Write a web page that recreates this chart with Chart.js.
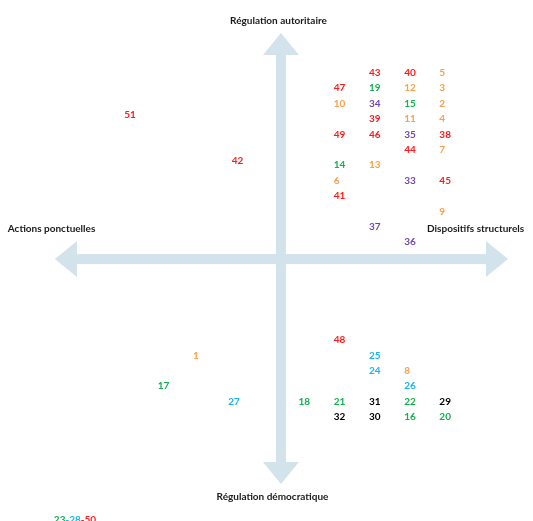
<!DOCTYPE html>
<html lang="fr">
<head>
    <meta charset="UTF-8">
    <script src="https://cdn.jsdelivr.net/npm/chart.js@4.4.6/dist/chart.umd.min.js"></script>
    <title>Régulation</title>
    <style>
        body { margin: 0; background: #fff; }
        #wrap { width: 533px; height: 521px; }
    </style>
</head>
<body>
    <div id="wrap"><canvas id="map"></canvas></div>

    <script>
        // numbers placed on the map (x: actions ponctuelles -> dispositifs structurels, y: démocratique -> autoritaire)
        const ids = ['43', '40', '5', '47', '19', '12', '3', '10', '34', '15', '2', '39', '11', '4',
            '49', '46', '35', '38', '44', '7', '14', '13', '6', '33', '45', '41', '9', '37', '36',
            '51', '42', '48', '1', '25', '24', '8', '17', '26', '27', '18', '21', '31', '22', '29',
            '32', '30', '16', '20', '23-28-50']
        const xVals = [2.5, 3.5, 4.5, 1.5, 2.5, 3.5, 4.5, 1.5, 2.5, 3.5, 4.5, 2.5, 3.5, 4.5,
            1.5, 2.5, 3.5, 4.5, 3.5, 4.5, 1.5, 2.5, 1.5, 3.5, 4.5, 1.5, 4.5, 2.5, 3.5,
            -4.45, -1.4, 1.5, -2.5, 2.5, 2.5, 3.5, -3.5, 3.5, -1.5, 0.5, 1.5, 2.5, 3.5, 4.5,
            1.5, 2.5, 3.5, 4.5, -6.45]
        const yVals = [12.1, 12.1, 12.1, 11.1, 11.1, 11.1, 11.1, 10.1, 10.1, 10.1, 10.1, 9.1, 9.1, 9.1,
            8.1, 8.1, 8.1, 8.1, 7.1, 7.1, 6.1, 6.1, 5.1, 5.1, 5.1, 4.1, 3.1, 2.1, 1.1,
            9.4, 6.4, -5.25, -6.25, -6.25, -7.25, -7.25, -8.25, -8.25, -9.25, -9.25, -9.25, -9.25, -9.25, -9.25,
            -10.25, -10.25, -10.25, -10.25, -16.9]
        const groups = ['r', 'r', 'o', 'r', 'g', 'o', 'o', 'o', 'p', 'g', 'o', 'r', 'o', 'o',
            'r', 'r', 'p', 'r', 'r', 'o', 'g', 'o', 'o', 'p', 'r', 'r', 'o', 'p', 'p',
            'r', 'r', 'r', 'o', 'b', 'b', 'o', 'g', 'b', 'b', 'g', 'g', 'k', 'g', 'k',
            'k', 'k', 'g', 'g', 'mix']
        const mixColors = ['g', 'b', 'r']   // 23 - 28 - 50

        const axisLabels = ['Régulation autoritaire', 'Régulation démocratique', 'Actions ponctuelles', 'Dispositifs structurels']
        const axisLabelX = [-0.07, -0.24, -7.76, 4.15]
        const axisLabelY = [15.5, -15.45, 2.0, 2.0]
        const axisLabelAlign = ['center', 'center', 'left', 'left']

        // arrow ends, same units as the points
        const arrowH = [-6.42, 6.45]
        const arrowV = [-14.6, 14.68]

        const palette = {
            r: '#ff1a1a',
            o: '#f8a04e',
            g: '#14b050',
            p: '#7446b0',
            b: '#1ab4f0',
            k: '#000000'
        }
        const font = 'bold 10px Lato'

        const arrowPlugin = {
            id: 'arrows',
            beforeDatasetsDraw(chart) {
                const ctx = chart.ctx
                const xs = chart.scales.x, ys = chart.scales.y
                const x0 = xs.getPixelForValue(0), y0 = ys.getPixelForValue(0)
                const half = 5, headW = 18, headL = 22
                ctx.save()
                ctx.fillStyle = '#d2e3eb'
                // horizontal
                const l = xs.getPixelForValue(arrowH[0]), r = xs.getPixelForValue(arrowH[1])
                ctx.fillRect(l + headL - 1, y0 - half, r - l - 2 * headL + 2, half * 2)
                ctx.beginPath()
                ctx.moveTo(l, y0); ctx.lineTo(l + headL, y0 - headW); ctx.lineTo(l + headL, y0 + headW)
                ctx.closePath(); ctx.fill()
                ctx.beginPath()
                ctx.moveTo(r, y0); ctx.lineTo(r - headL, y0 - headW); ctx.lineTo(r - headL, y0 + headW)
                ctx.closePath(); ctx.fill()
                // vertical
                const b = ys.getPixelForValue(arrowV[0]), t = ys.getPixelForValue(arrowV[1])
                ctx.fillRect(x0 - half, t + headL - 1, half * 2, b - t - 2 * headL + 2)
                ctx.beginPath()
                ctx.moveTo(x0, t); ctx.lineTo(x0 - headW, t + headL); ctx.lineTo(x0 + headW, t + headL)
                ctx.closePath(); ctx.fill()
                ctx.beginPath()
                ctx.moveTo(x0, b); ctx.lineTo(x0 - headW, b - headL); ctx.lineTo(x0 + headW, b - headL)
                ctx.closePath(); ctx.fill()
                ctx.restore()
            },
            afterDatasetsDraw(chart) {
                const ctx = chart.ctx
                const xs = chart.scales.x, ys = chart.scales.y
                ctx.save()
                ctx.font = font
                ctx.textBaseline = 'middle'
                // axis titles
                ctx.fillStyle = '#1a1a1a'
                axisLabels.forEach((txt, i) => {
                    ctx.textAlign = axisLabelAlign[i]
                    ctx.fillText(txt, xs.getPixelForValue(axisLabelX[i]), ys.getPixelForValue(axisLabelY[i]))
                })
                // numbers
                ctx.textAlign = 'left'
                const meta = chart.getDatasetMeta(0)
                meta.data.forEach((pt, i) => {
                    if (groups[i] == 'mix') {
                        let px = pt.x
                        ids[i].split('-').forEach((part, j) => {
                            const s = (j > 0 ? '-' : '') + part
                            ctx.fillStyle = palette[mixColors[j]]
                            ctx.fillText(s, px, pt.y)
                            px += ctx.measureText(s).width
                        })
                    } else {
                        ctx.fillStyle = palette[groups[i]]
                        ctx.fillText(ids[i], pt.x, pt.y)
                    }
                })
                ctx.restore()
            }
        }

        new Chart(document.getElementById('map'), {
            type: 'scatter',
            data: {
                labels: ids,
                datasets: [{
                    data: xVals.map((x, i) => ({ x: x, y: yVals[i] })),
                    pointRadius: 0,
                    pointHoverRadius: 0
                }]
            },
            options: {
                responsive: true,
                maintainAspectRatio: false,
                animation: false,
                layout: { padding: 0 },
                scales: {
                    x: { display: false, min: -7.98, max: 7.16 },
                    y: { display: false, min: -17.0, max: 16.82 }
                },
                plugins: {
                    legend: { display: false },
                    tooltip: { enabled: false }
                }
            },
            plugins: [arrowPlugin]
        })
    </script>
</body>
</html>
